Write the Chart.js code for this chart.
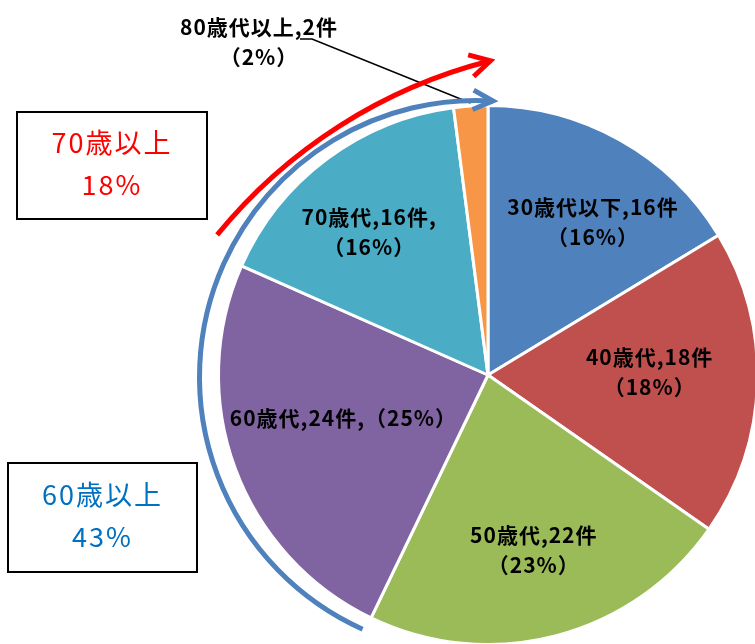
<!DOCTYPE html>
<html>
<head>
<meta charset="utf-8">
<script src="https://cdn.jsdelivr.net/npm/chart.js@4"></script>
<style>
  html, body { margin: 0; padding: 0; background: #fff; overflow: hidden; }
  #wrap { position: absolute; left: 0; top: 0; width: 976px; height: 750px; }
</style>
</head>
<body>
<div id="wrap"><canvas id="pieChart" width="976" height="750"></canvas></div>
<script>
// data
const categories = ['30歳代以下', '40歳代', '50歳代', '60歳代', '70歳代', '80歳代以上'];
const counts = [16, 18, 22, 24, 16, 2];
const percents = ['16%', '18%', '23%', '25%', '16%', '2%'];
const sliceColors = ['#4F81BD', '#C0504D', '#9BBB59', '#8064A2', '#4BACC6', '#F79646'];
const groupTitles = ['70歳以上', '60歳以上'];
const groupPercents = ['18%', '43%'];

const labelFont = 'bold 21px "Noto Sans CJK JP"';
const boxFont = '27px "Noto Sans CJK JP"';

// label placement: [radius factor, angle shift in degrees]
const labelPlace = [[0.69, 5], [0.60, -3], [0.67, 0], [0.56, 3.5], [0.69, -3]];

function labelLines(i) {
    const c = categories[i], n = counts[i], p = percents[i];
    if (i === 3) return [c + ',' + n + '件,（' + p + '）'];
    if (i === 4) return [c + ',' + n + '件,', '（' + p + '）'];
    return [c + ',' + n + '件', '（' + p + '）'];
}

function drawLines(ctx, lines, x, y, lh) {
    const top = y - (lines.length - 1) * lh / 2;
    lines.forEach((t, k) => ctx.fillText(t, x, top + k * lh));
}

function arcArrow(ctx, cx, cy, r, a0, a1, color, width, head, spread) {
    ctx.save();
    ctx.strokeStyle = color;
    ctx.lineWidth = width;
    ctx.lineCap = 'butt';
    ctx.lineJoin = 'miter';
    ctx.beginPath();
    ctx.arc(cx, cy, r, a0, a1, false);
    ctx.stroke();
    const tx = cx + r * Math.cos(a1), ty = cy + r * Math.sin(a1);
    const back = Math.atan2(-Math.cos(a1), Math.sin(a1)); // opposite of clockwise tangent
    ctx.beginPath();
    ctx.moveTo(tx + head * Math.cos(back + spread), ty + head * Math.sin(back + spread));
    ctx.lineTo(tx, ty);
    ctx.lineTo(tx + head * Math.cos(back - spread), ty + head * Math.sin(back - spread));
    ctx.stroke();
    ctx.restore();
}

const deg = Math.PI / 180;

const annotations = {
    id: 'annotations',
    afterDatasetsDraw(chart) {
        const ctx = chart.ctx;
        const arcs = chart.getDatasetMeta(0).data;
        const cx = arcs[0].x, cy = arcs[0].y, R = arcs[0].outerRadius;

        // slice labels
        ctx.save();
        ctx.font = labelFont;
        ctx.letterSpacing = '1px';
        ctx.fillStyle = '#000';
        ctx.textAlign = 'center';
        ctx.textBaseline = 'middle';
        arcs.forEach((arc, i) => {
            if (i >= labelPlace.length) return;
            const mid = (arc.startAngle + arc.endAngle) / 2 + labelPlace[i][1] * deg;
            const d = R * labelPlace[i][0];
            drawLines(ctx, labelLines(i), cx + d * Math.cos(mid), cy + d * Math.sin(mid), 30);
        });

        // outside label for the smallest slice with leader line
        const last = arcs.length - 1;
        const lx = cx - 229, ly = cy - 333;
        drawLines(ctx, labelLines(last), lx, ly, 30);
        const lm = (arcs[last].startAngle + arcs[last].endAngle) / 2;
        ctx.strokeStyle = '#000';
        ctx.lineWidth = 1.5;
        ctx.beginPath();
        ctx.moveTo(lx + 41, ly - 3);
        ctx.lineTo(lx + 53, ly - 3);
        ctx.lineTo(cx + (R + 3) * Math.cos(lm), cy + (R + 3) * Math.sin(lm));
        ctx.stroke();
        ctx.restore();

        // group arrows: 60歳以上 (blue) and 70歳以上 (red)
        const s60 = arcs[3].startAngle;
        const bcx = cx - 12, bcy = cy + 2, br = R + 7;
        arcArrow(ctx, bcx, bcy, br, s60 - 1.5 * deg, 273.5 * deg, '#4F81BD', 5, 22, 26 * deg);
        const rcx = cx + 129, rcy = cy + 186, rr = 516;
        arcArrow(ctx, rcx, rcy, rr, 219.2 * deg, 255.8 * deg, '#FF0000', 5, 23, 29 * deg);

        // group boxes
        ctx.save();
        ctx.lineWidth = 2;
        ctx.strokeStyle = '#000';
        ctx.textAlign = 'center';
        ctx.textBaseline = 'middle';
        ctx.font = boxFont;
        ctx.letterSpacing = '2px';
        const boxes = [
            { x: cx - 471, y: cy - 263, w: 190, h: 107, color: '#FF0000' },
            { x: cx - 480, y: cy + 88, w: 189, h: 109, color: '#0070C0' }
        ];
        boxes.forEach((b, k) => {
            ctx.fillStyle = '#fff';
            ctx.fillRect(b.x, b.y, b.w, b.h);
            ctx.strokeRect(b.x, b.y, b.w, b.h);
            ctx.fillStyle = b.color;
            drawLines(ctx, [groupTitles[k], groupPercents[k]], b.x + b.w / 2, b.y + b.h / 2 - 2, 42);
        });
        ctx.restore();
    }
};

new Chart(document.getElementById('pieChart'), {
    type: 'pie',
    data: {
        labels: categories,
        datasets: [{
            data: counts,
            backgroundColor: sliceColors,
            borderColor: '#fff',
            borderWidth: 3
        }]
    },
    options: {
        responsive: false,
        animation: false,
        events: [],
        layout: { padding: { left: 217, right: 217, top: 104, bottom: 104 } },
        plugins: {
            legend: { display: false },
            tooltip: { enabled: false }
        }
    },
    plugins: [annotations]
});
</script>
</body>
</html>
